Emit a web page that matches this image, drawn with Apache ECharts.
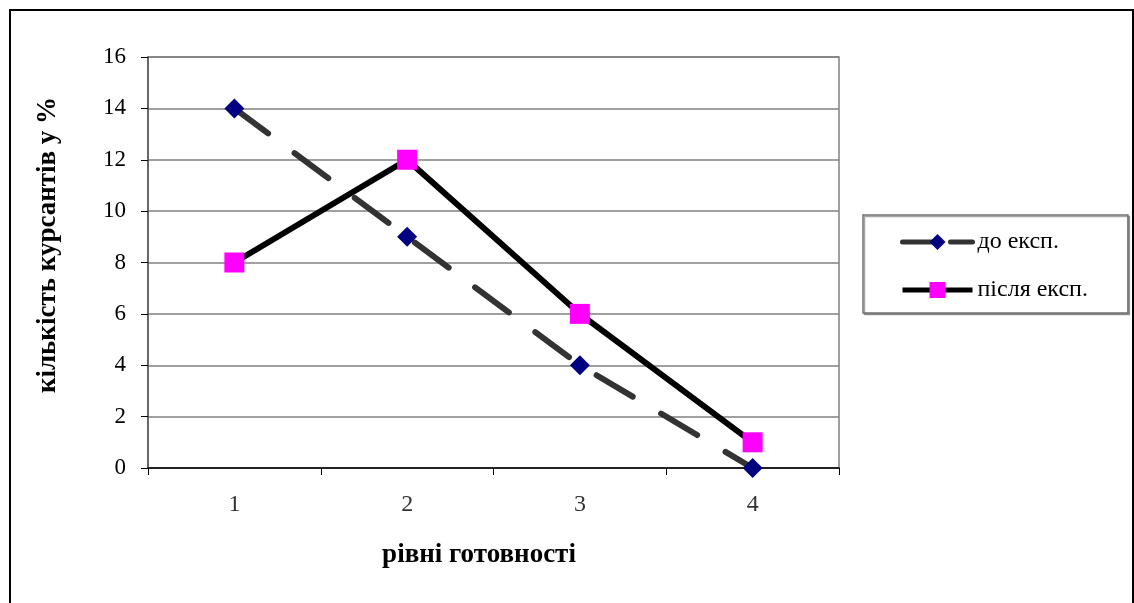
<!DOCTYPE html>
<html>
<head>
<meta charset="utf-8">
<style>
  html, body { margin: 0; padding: 0; background: #ffffff; }
  #chart { width: 1134px; height: 603px; }
</style>
<script src="https://cdn.jsdelivr.net/npm/echarts@6/dist/echarts.min.js"></script>
</head>
<body>
<div id="chart"></div>
<script>
// Readiness levels and share of cadets (%) before and after the experiment
const levels = ['1', '2', '3', '4'];
const beforeValues = [14, 9, 4, 0];
const afterValues = [8, 12, 6, 1];
const seriesNames = ['до експ.', 'після експ.'];
const xAxisTitle = 'рівні готовності';
const yAxisTitle = 'кількість курсантів у %';

const serif = '"Liberation Serif", "Times New Roman", serif';

const chart = echarts.init(document.getElementById('chart'), null, { renderer: 'canvas' });

chart.setOption({
  backgroundColor: '#ffffff',
  animation: false,
  grid: {
    left: 148, top: 57, right: 295, bottom: 135,
    show: true, borderColor: '#808080', borderWidth: 1.5
  },
  xAxis: {
    type: 'category',
    data: levels,
    boundaryGap: true,
    axisLine: { lineStyle: { color: '#000000', width: 1.5 } },
    axisTick: { show: true, length: 7, lineStyle: { color: '#000000', width: 1 } },
    axisLabel: { margin: 25, fontFamily: serif, fontSize: 24, color: '#333333' },
    splitLine: { show: false }
  },
  yAxis: {
    type: 'value',
    min: 0, max: 16, interval: 2,
    axisLine: { show: true, lineStyle: { color: '#555555', width: 1.5 } },
    axisTick: { show: true, length: 7, lineStyle: { color: '#000000', width: 1 } },
    axisLabel: { margin: 22, fontFamily: serif, fontSize: 23, color: '#000000' },
    splitLine: { show: true, lineStyle: { color: '#808080', width: 1.5 } }
  },
  legend: {
    orient: 'vertical',
    left: 863, top: 215,
    padding: [15, 40, 11, 37],
    itemGap: 24,
    itemWidth: 70,
    itemHeight: 20,
    borderColor: '#707070',
    borderWidth: 1.5,
    backgroundColor: '#ffffff',
    shadowColor: 'rgba(0,0,0,0.35)',
    shadowOffsetX: 1.5,
    shadowOffsetY: 1.5,
    shadowBlur: 0,
    textStyle: { fontFamily: serif, fontSize: 24, color: '#000000', lineHeight: 20 },
    data: [
      { name: seriesNames[0], lineStyle: { width: 5, type: [36, 12], cap: 'round', color: '#333333' } },
      { name: seriesNames[1], lineStyle: { width: 5, type: 'solid', color: '#000000' } }
    ]
  },
  series: [
    {
      name: seriesNames[0],
      type: 'line',
      data: beforeValues,
      symbol: 'diamond',
      symbolSize: 20,
      itemStyle: { color: '#000080' },
      lineStyle: { color: '#333333', width: 6, type: [42, 33], cap: 'round' },
      z: 2
    },
    {
      name: seriesNames[1],
      type: 'line',
      data: afterValues,
      symbol: 'rect',
      symbolSize: 20,
      itemStyle: { color: '#ff00ff' },
      lineStyle: { color: '#000000', width: 6 },
      z: 3
    }
  ],
  graphic: [
    {
      type: 'rect',
      silent: true,
      shape: { x: 10, y: 10, width: 1123, height: 700 },
      style: { fill: 'none', stroke: '#000000', lineWidth: 2 }
    },
    {
      type: 'text',
      silent: true,
      x: 48, y: 245,
      rotation: Math.PI / 2,
      style: {
        text: yAxisTitle,
        fontFamily: serif, fontSize: 27, fontWeight: 'bold', fill: '#000000',
        align: 'center', verticalAlign: 'middle'
      }
    },
    {
      type: 'text',
      silent: true,
      x: 479, y: 555,
      style: {
        text: xAxisTitle,
        fontFamily: serif, fontSize: 27, fontWeight: 'bold', fill: '#000000',
        align: 'center', verticalAlign: 'middle'
      }
    }
  ]
});
</script>
</body>
</html>
